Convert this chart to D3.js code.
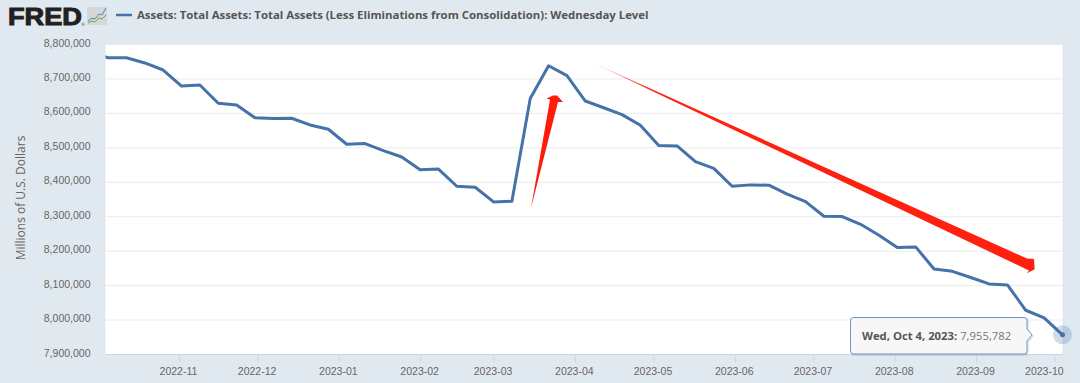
<!DOCTYPE html>
<html>
<head>
<meta charset="utf-8">
<script src="https://cdn.jsdelivr.net/npm/d3@7"></script>
<style>
  body { margin: 0; background: #e1e9f0; }
  svg { display: block; font-family: "Open Sans", sans-serif; }
</style>
</head>
<body>
<div id="chart"></div>
<script>
// Wednesday levels, Millions of U.S. Dollars
const dates = [
  "2022-09-28", "2022-10-05", "2022-10-12", "2022-10-19", "2022-10-26", "2022-11-02", "2022-11-09",
  "2022-11-16", "2022-11-23", "2022-11-30", "2022-12-07", "2022-12-14", "2022-12-21", "2022-12-28",
  "2023-01-04", "2023-01-11", "2023-01-18", "2023-01-25", "2023-02-01", "2023-02-08", "2023-02-15",
  "2023-02-22", "2023-03-01", "2023-03-08", "2023-03-15", "2023-03-22", "2023-03-29", "2023-04-05",
  "2023-04-12", "2023-04-19", "2023-04-26", "2023-05-03", "2023-05-10", "2023-05-17", "2023-05-24",
  "2023-05-31", "2023-06-07", "2023-06-14", "2023-06-21", "2023-06-28", "2023-07-05", "2023-07-12",
  "2023-07-19", "2023-07-26", "2023-08-02", "2023-08-09", "2023-08-16", "2023-08-23", "2023-08-30",
  "2023-09-06", "2023-09-13", "2023-09-20", "2023-09-27", "2023-10-04"
];
const assets = [
  8776000, 8760000, 8760000, 8745000, 8724500, 8678000, 8681000,
  8628000, 8623000, 8586000, 8584000, 8584500, 8565000, 8552500,
  8509000, 8511000, 8490500, 8472000, 8435000, 8437000, 8387000,
  8384000, 8341500, 8343500, 8642000, 8737000, 8708000, 8634500,
  8615000, 8595000, 8564000, 8505000, 8504000, 8458500, 8439000,
  8387000, 8391000, 8390000, 8364000, 8342500, 8300000, 8299000,
  8276500, 8245000, 8209000, 8211000, 8147000, 8140000, 8122000,
  8103500, 8100500, 8027000, 8005000, 7955782
];
const xTicks = ["2022-11", "2022-12", "2023-01", "2023-02", "2023-03", "2023-04", "2023-05",
  "2023-06", "2023-07", "2023-08", "2023-09", "2023-10"];
const yTicks = [7900000, 8000000, 8100000, 8200000, 8300000, 8400000, 8500000, 8600000, 8700000, 8800000];
const seriesName = "Assets: Total Assets: Total Assets (Less Eliminations from Consolidation): Wednesday Level";
const yAxisTitle = "Millions of U.S. Dollars";
const tipDate = "Wed, Oct 4, 2023:";
const tipValue = "7,955,782";

const width = 1080;
const height = 383;
const margin = { top: 44, right: 17.5, bottom: 29, left: 105.5 };
const lineColor = "#4572a7";

const parseDay = d3.utcParse("%Y-%m-%d");
const parseMonth = d3.utcParse("%Y-%m");
const data = dates.map((d, i) => ({ date: parseDay(d), value: assets[i] }));
const last = data[data.length - 1];

const svg = d3.select("#chart")
  .append("svg")
  .attr("width", width)
  .attr("height", height);

const defs = svg.append("defs");
defs.append("clipPath")
  .attr("id", "plot-clip")
  .append("rect")
  .attr("x", margin.left)
  .attr("y", margin.top)
  .attr("width", width - margin.left - margin.right)
  .attr("height", height - margin.top - margin.bottom);

// tail of the long arrow fades out
const fade = defs.append("linearGradient")
  .attr("id", "arrow-fade")
  .attr("gradientUnits", "userSpaceOnUse")
  .attr("x1", 587).attr("y1", 60)
  .attr("x2", 650).attr("y2", 89);
fade.append("stop").attr("offset", 0).attr("stop-color", "#ff2010").attr("stop-opacity", 0);
fade.append("stop").attr("offset", 1).attr("stop-color", "#ff2010").attr("stop-opacity", 1);

const xScale = d3.scaleUtc()
  .domain([parseDay("2022-10-04"), parseDay("2023-10-04")])
  .range([margin.left, width - margin.right]);

const yScale = d3.scaleLinear()
  .domain([7900000, 8800000])
  .range([height - margin.bottom, margin.top]);

// Plot background
svg.append("rect")
  .attr("x", margin.left)
  .attr("y", margin.top)
  .attr("width", width - margin.left - margin.right)
  .attr("height", height - margin.top - margin.bottom)
  .attr("fill", "white");

// Y axis and gridlines
const yAxis = d3.axisLeft(yScale)
  .tickValues(yTicks)
  .tickSize(-(width - margin.left - margin.right))
  .tickPadding(15)
  .tickFormat(d3.format(","));

const yG = svg.append("g")
  .attr("transform", `translate(${margin.left}, 0)`)
  .call(yAxis);
yG.select(".domain").remove();
yG.selectAll("line").attr("stroke", "#ebebeb");
yG.selectAll("text")
  .attr("dy", "0.2em")
  .style("font-size", "10.5px")
  .style("fill", "#666");

// X axis
const xAxis = d3.axisBottom(xScale)
  .tickValues(xTicks.map(parseMonth))
  .tickSizeInner(8.5)
  .tickSizeOuter(0)
  .tickPadding(5)
  .tickFormat(d3.utcFormat("%Y-%m"));

const xG = svg.append("g")
  .attr("transform", `translate(0, ${height - margin.bottom})`)
  .call(xAxis);
xG.selectAll("path, line").attr("stroke", "#ccd6eb");
xG.selectAll("text")
  .attr("x", -1)
  .style("font-size", "10.5px")
  .style("fill", "#666");
// last label is pushed back inside the plot edge
xG.selectAll("text")
  .filter((d, i) => i === xTicks.length - 1)
  .attr("text-anchor", "end")
  .attr("x", 8.5);

svg.append("text")
  .attr("transform", `translate(25, 198) rotate(-90)`)
  .attr("text-anchor", "middle")
  .style("font-size", "12px")
  .style("fill", "#666")
  .text(yAxisTitle);

// Series line
const line = d3.line()
  .x(d => xScale(d.date))
  .y(d => yScale(d.value));

svg.append("path")
  .datum(data)
  .attr("clip-path", "url(#plot-clip)")
  .attr("fill", "none")
  .attr("stroke", lineColor)
  .attr("stroke-width", 3)
  .attr("stroke-linejoin", "round")
  .attr("d", line);

// Red arrows pasted over the chart
svg.append("path")
  .attr("d", "M531,208L550,99.5L546.5,98.5L553,95.5L557,95.5L563,102L558,102Z")
  .attr("fill", "#ff1c0c");
svg.append("path")
  .attr("d", "M587,60L1027,258.5L1034,259L1034.7,269.3L1027,273.3L1029,270.5Z")
  .attr("fill", "url(#arrow-fade)");

// Hover marker
svg.append("circle")
  .attr("cx", xScale(last.date))
  .attr("cy", yScale(last.value))
  .attr("r", 9.5)
  .attr("fill", lineColor)
  .attr("fill-opacity", 0.25);
svg.append("circle")
  .attr("cx", xScale(last.date))
  .attr("cy", yScale(last.value))
  .attr("r", 2.5)
  .attr("fill", lineColor);

// Tooltip
const tipShape = "M853.5,317.5H1024a3,3 0 0 1 3,3V329L1032,335L1027,341V351a3,3 0 0 1 -3,3H853.5a3,3 0 0 1 -3,-3V320.5a3,3 0 0 1 3,-3Z";
svg.append("path")
  .attr("d", tipShape)
  .attr("transform", "translate(1, 1)")
  .attr("fill", "none")
  .attr("stroke", "#000")
  .attr("stroke-opacity", 0.12)
  .attr("stroke-width", 1.5);
svg.append("path")
  .attr("d", tipShape)
  .attr("fill", "#f7f7f7")
  .attr("fill-opacity", 0.95)
  .attr("stroke", "#7396bf")
  .attr("stroke-width", 1);

const tip = svg.append("text")
  .attr("x", 862)
  .attr("y", 339.5)
  .style("font-size", "11.3px")
  .style("fill", "#555");
tip.append("tspan").style("font-weight", 700).text(tipDate);
tip.append("tspan").style("fill", "#777").text(" " + tipValue);

// Header: logo and legend
svg.append("text")
  .attr("x", 8)
  .attr("y", 25)
  .attr("textLength", 74)
  .attr("lengthAdjust", "spacingAndGlyphs")
  .style("font-family", "'Liberation Sans', sans-serif")
  .style("font-size", "24px")
  .style("font-weight", 700)
  .style("fill", "#231f20")
  .style("stroke", "#231f20")
  .style("stroke-width", 1)
  .text("FRED");
svg.append("text")
  .attr("x", 81.5)
  .attr("y", 25.5)
  .style("font-size", "4px")
  .style("fill", "#231f20")
  .text("®");

const logo = svg.append("g").attr("transform", "translate(87, 7)");
logo.append("rect")
  .attr("width", 20).attr("height", 18)
  .attr("fill", "#d3d8da");
logo.append("path")
  .attr("d", "M1,14L5,11L8,12L12,7L15,8L19,1")
  .attr("fill", "none").attr("stroke", "#5a84b5").attr("stroke-width", 1);
logo.append("path")
  .attr("d", "M1,16L5,14L8,15L12,11L15,12L19,8")
  .attr("fill", "none").attr("stroke", "#7fa24f").attr("stroke-width", 1);

svg.append("line")
  .attr("x1", 116).attr("x2", 132)
  .attr("y1", 15).attr("y2", 15)
  .attr("stroke", lineColor)
  .attr("stroke-width", 2.5);

svg.append("text")
  .attr("x", 137)
  .attr("y", 19)
  .style("font-size", "11.4px")
  .style("font-weight", 700)
  .style("fill", "#555")
  .text(seriesName);
</script>
</body>
</html>
